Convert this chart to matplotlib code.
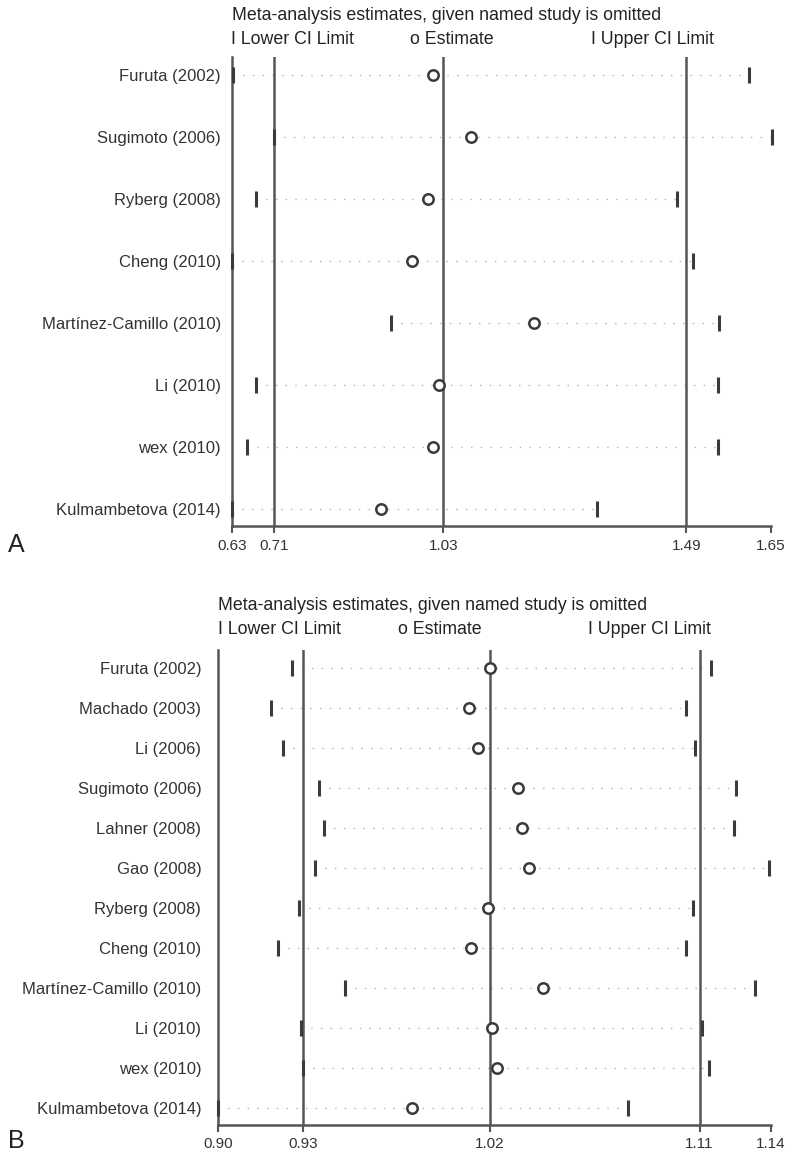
import matplotlib
matplotlib.use("Agg")
import matplotlib.pyplot as plt

plt.rcParams['font.family'] = ['Liberation Sans', 'DejaVu Sans']

# ---------------- Panel A data ----------------
studies_a = ["Furuta (2002)", "Sugimoto (2006)", "Ryberg (2008)", "Cheng (2010)",
             "Martínez-Camillo (2010)", "Li (2010)", "wex (2010)", "Kulmambetova (2014)"]
lower_a = [0.632, 0.710, 0.675, 0.630, 0.931, 0.675, 0.658, 0.630]
est_a = [1.010, 1.083, 1.000, 0.971, 1.202, 1.022, 1.011, 0.912]
upper_a = [1.609, 1.651, 1.473, 1.503, 1.552, 1.550, 1.550, 1.321]
ref_a = [0.71, 1.03, 1.49]
ticks_a = [0.63, 0.71, 1.03, 1.49, 1.65]
ticklabels_a = ["0.63", "0.71", "1.03", "1.49", "1.65"]
xlim_a = (0.63, 1.65)

# ---------------- Panel B data ----------------
studies_b = ["Furuta (2002)", "Machado (2003)", "Li (2006)", "Sugimoto (2006)", "Lahner (2008)",
             "Gao (2008)", "Ryberg (2008)", "Cheng (2010)", "Martínez-Camillo (2010)",
             "Li (2010)", "wex (2010)", "Kulmambetova (2014)"]
lower_b = [0.932, 0.923, 0.928, 0.944, 0.946, 0.942, 0.935, 0.926, 0.955, 0.936, 0.937, 0.900]
est_b = [1.018, 1.009, 1.013, 1.030, 1.032, 1.035, 1.017, 1.010, 1.041, 1.019, 1.021, 0.984]
upper_b = [1.114, 1.103, 1.107, 1.125, 1.124, 1.139, 1.106, 1.103, 1.133, 1.110, 1.113, 1.078]
ref_b = [0.937, 1.018, 1.109]
ticks_b = [0.90, 0.937, 1.018, 1.109, 1.14]
ticklabels_b = ["0.90", "0.93", "1.02", "1.11", "1.14"]
xlim_b = (0.90, 1.14)

TITLE = "Meta-analysis estimates, given named study is omitted"

W, H = 800, 1155
fig = plt.figure(figsize=(W / 100, H / 100), dpi=100)
fig.patch.set_facecolor('white')

DARK = '#3a3a3a'
LINE = '#555555'
TXT = '#333333'


def panel(x0, x1, ytop, ybot, row0, step, studies, lo, est, up, ref, ticks, ticklabels,
          xlim, letter, letter_y, title_y, legend_y, legend_xs, label_pad):
    ax = fig.add_axes([x0 / W, 1 - ybot / H, (x1 - x0) / W, (ybot - ytop) / H])
    n = len(studies)
    ys = list(range(n))
    ax.set_xlim(*xlim)
    ax.set_ylim((ybot - row0) / step, (ytop - row0) / step)
    for i in range(n):
        ax.plot([lo[i], up[i]], [i, i], linestyle=(0, (1, 6)), color='#b4b4b4', lw=1.0, zorder=1)
    for r in ref:
        ax.axvline(r, color=LINE, lw=1.8, zorder=2)
    ax.plot(lo, ys, linestyle='none', marker='|', ms=11, mew=2.2, color=DARK, zorder=3, clip_on=False)
    ax.plot(up, ys, linestyle='none', marker='|', ms=11, mew=2.2, color=DARK, zorder=3, clip_on=False)
    ax.plot(est, ys, linestyle='none', marker='o', ms=7.5, mfc='white', mec=DARK, mew=1.8,
            zorder=4, clip_on=False)
    for s in ['top', 'right']:
        ax.spines[s].set_visible(False)
    for s in ['left', 'bottom']:
        ax.spines[s].set_color(LINE)
        ax.spines[s].set_linewidth(1.8)
    ax.set_yticks(ys)
    ax.set_yticklabels(studies, fontsize=12, color=TXT)
    ax.tick_params(axis='y', length=0, pad=label_pad)
    ax.set_xticks(ticks)
    ax.set_xticklabels(ticklabels, fontsize=11, color=TXT)
    ax.tick_params(axis='x', length=5, width=1.5, color=LINE, pad=4)
    fig.text(x0 / W, 1 - title_y / H, TITLE, fontsize=12.8, color='#222222', va='center', ha='left')
    for xpx, lab in zip(legend_xs, ["I Lower CI Limit", "o Estimate", "I Upper CI Limit"]):
        fig.text(xpx / W, 1 - legend_y / H, lab, fontsize=12.8, color='#222222', va='center', ha='left')
    fig.text(8 / W, 1 - letter_y / H, letter, fontsize=18, color='#222222', va='center', ha='left')
    return ax


panel(232, 771, 57, 526, 75, 62, studies_a, lower_a, est_a, upper_a, ref_a, ticks_a,
      ticklabels_a, xlim_a, "A", 545, 15, 39, [231, 410, 591], 8)
panel(218, 771, 650, 1125, 668, 40, studies_b, lower_b, est_b, upper_b, ref_b, ticks_b,
      ticklabels_b, xlim_b, "B", 1141, 605, 629, [218, 398, 588], 12)

fig.savefig("out.png", dpi=100, facecolor='white')
